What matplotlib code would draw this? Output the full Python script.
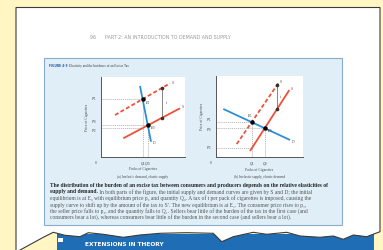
import matplotlib.pyplot as plt
from matplotlib.patches import Rectangle, Polygon

W, H = 383, 250

# panel (a): inelastic demand, elastic supply (axis units 0-10)
a_demand_x = [4.66, 5.97]
a_demand_y = [8.88, 1.91]
a_supply_x = [2.68, 9.41]
a_supply_y = [2.34, 6.09]
a_taxed_x = [1.70, 8.22]
a_taxed_y = [5.25, 9.21]
a_tax_x = 7.31

# panel (b): inelastic supply, elastic demand
b_demand_x = [0.84, 8.51]
b_demand_y = [5.93, 2.10]
b_supply_x = [3.91, 8.43]
b_supply_y = [0.74, 8.27]
b_taxed_x = [2.38, 7.16]
b_taxed_y = [1.60, 9.10]
b_tax_x = 7.0

header = "96      PART 2: AN INTRODUCTION TO DEMAND AND SUPPLY"
fig_label = "FIGURE 4-9"
fig_title = "Elasticity and the Incidence of an Excise Tax"
panel_titles = ["(a) Inelastic demand, elastic supply", "(b) Inelastic supply, elastic demand"]
caption_bold = ["The distribution of the burden of an excise tax between consumers and producers depends on the relative elasticities of",
                "supply and demand."]
caption_rest = [" In both parts of the figure, the initial supply and demand curves are given by S and D; the initial",
                "equilibrium is at E\u2080 with equilibrium price p\u2080 and quantity Q\u2080. A tax of t per pack of cigarettes is imposed, causing the",
                "supply curve to shift up by the amount of the tax to S\u2032. The new equilibrium is at E\u2081. The consumer price rises to p\u2081,",
                "the seller price falls to p\u2082, and the quantity falls to Q\u2081. Sellers bear little of the burden of the tax in the first case (and",
                "consumers bear a lot), whereas consumers bear little of the burden in the second case (and sellers bear a lot)."]

YELLOW = "#fff6c4"
BOX_FACE = "#e0eff7"
BOX_EDGE = "#88acd0"
RED = "#f0503a"
BLUE = "#2e8fd4"
BAND = "#1f6db4"
GUIDE = "#8a8a8a"
SERIF = ["Liberation Serif", "DejaVu Serif"]


def value_at(xs, ys, x):
    k = (ys[1] - ys[0]) / (xs[1] - xs[0])
    return ys[0] + k * (x - xs[0])


def cross(x1, y1, x2, y2):
    k1 = (y1[1] - y1[0]) / (x1[1] - x1[0])
    k2 = (y2[1] - y2[0]) / (x2[1] - x2[0])
    x = (y2[0] - y1[0] + k1 * x1[0] - k2 * x2[0]) / (k1 - k2)
    return x, value_at(x1, y1, x)


def panel(fig, box, dx, dy, sx, sy, tx, ty, tax_x, labels):
    left, top, right, bottom = box
    ax = fig.add_axes([left / W, 1 - bottom / H, (right - left) / W, (bottom - top) / H])
    ax.set_xlim(0, 10)
    ax.set_ylim(0, 10)
    ax.set_facecolor("white")
    for s in ("top", "right"):
        ax.spines[s].set_visible(False)
    for s in ("left", "bottom"):
        ax.spines[s].set_color("#555555")
        ax.spines[s].set_linewidth(0.7)
    ax.set_xticks([])
    ax.set_yticks([])

    e1 = cross(dx, dy, tx, ty)
    e0 = cross(dx, dy, sx, sy)
    p2 = value_at(sx, sy, e1[0])
    gkw = dict(color=GUIDE, lw=0.4, ls=(0, (2, 1.5)), zorder=1)
    ax.plot([0, e1[0]], [e1[1], e1[1]], **gkw)
    ax.plot([0, e0[0]], [e0[1], e0[1]], **gkw)
    ax.plot([0, e1[0]], [p2, p2], **gkw)
    ax.plot([e1[0], e1[0]], [0, e1[1]], **gkw)
    ax.plot([e0[0], e0[0]], [0, e0[1]], **gkw)

    ax.plot(sx, sy, color=RED, lw=1.3, solid_capstyle="butt", zorder=2)
    ax.plot(tx, ty, color=RED, lw=1.3, ls=(0, (2.2, 1.3)), zorder=2)
    ax.plot(dx, dy, color=BLUE, lw=1.3, solid_capstyle="butt", zorder=3)
    ax.plot([e1[0], e0[0]], [e1[1], e0[1]], "o", color="black", ms=2.2, zorder=4)

    t_top = value_at(tx, ty, tax_x)
    t_bot = value_at(sx, sy, tax_x)
    ax.plot([tax_x, tax_x], [t_top, t_bot], color="#555555", lw=0.5, zorder=3)
    ax.plot([tax_x, tax_x], [t_top, t_bot], "o", color="#333333", ms=1.6, zorder=4)

    fs = 2.6
    tkw = dict(fontsize=fs, color="#444444", family=SERIF, clip_on=False)
    ax.text(dx[1] + 0.2, dy[1] - 0.2, "D", ha="left", va="center", **tkw)
    ax.text(sx[1] + 0.2, sy[1] + 0.1, "S", ha="left", va="center", **tkw)
    ax.text(tx[1] + 0.2, ty[1] + 0.1, "S\u2032", ha="left", va="center", **tkw)
    ax.text(tax_x + 0.4, (t_top + t_bot) / 2, "t", ha="left", va="center", **tkw)
    ax.text(e1[0] + labels["e1"][0], e1[1] + labels["e1"][1], "$E_1$", ha="center", va="center", **tkw)
    ax.text(e0[0] + labels["e0"][0], e0[1] + labels["e0"][1], "$E_0$", ha="center", va="center", **tkw)
    ax.text(-0.5, e1[1] + labels["p1"], "$P_1$", ha="right", va="center", **tkw)
    ax.text(-0.5, e0[1] + labels["p0"], "$P_0$", ha="right", va="center", **tkw)
    ax.text(-0.5, p2 + labels["p2"], "$P_2$", ha="right", va="center", **tkw)
    ax.text(-0.5, -0.5, "0", ha="right", va="top", **tkw)
    if labels["split_q"]:
        ax.text(e1[0], -0.5, "$Q_1$", ha="center", va="top", **tkw)
        ax.text(e0[0], -0.5, "$Q_0$", ha="center", va="top", **tkw)
    else:
        ax.text((e1[0] + e0[0]) / 2, -0.5, "$Q_1 Q_0$", ha="center", va="top", **tkw)
    ax.text(5, -1.3, "Packs of Cigarettes", ha="center", va="top", **tkw)
    ax.text(-1.6, 5, "Price of Cigarettes", ha="center", va="center", rotation=90, **tkw)
    ax.text(5, -2.2, labels["title"], ha="center", va="top", **tkw)
    return ax


fig = plt.figure(figsize=(W / 100, H / 100), dpi=100)
fig.patch.set_facecolor(YELLOW)
bg = fig.add_axes([0, 0, 1, 1])
bg.set_xlim(0, W)
bg.set_ylim(H, 0)
bg.axis("off")

# next section band peeking under the torn edge
bg.add_patch(Rectangle((57, 234), 317, 18, facecolor=BAND, edgecolor="none", zorder=1))
bg.add_patch(Rectangle((58, 237.5), 4.5, 4.5, facecolor="white", edgecolor="none", zorder=1))
bg.text(85, 245, "EXTENSIONS IN THEORY", color="white", fontsize=4.2, fontweight="bold",
        va="center", ha="left", zorder=1)

torn = [(380, 231.7), (366.7, 236.7), (353.3, 235), (343.3, 239.3), (333.3, 236), (320, 237.3),
        (300, 236), (286.7, 232.3), (266.7, 234.3), (253.3, 232.3), (233.3, 236.7), (221.7, 241.7),
        (213.3, 233.3), (186.7, 232.7), (160, 233.3), (140, 235), (123.3, 237.3), (103.3, 234.3),
        (88.3, 232.7), (80, 236.7), (65, 235.3), (53.3, 232.3), (43.3, 237.3), (18.3, 251)]
page = [(16, 251), (16, 7.5), (380, 7.5)] + torn
bg.add_patch(Polygon(page, closed=True, facecolor="white", edgecolor="#3a3a3a", lw=0.8, zorder=2))

bg.text(90, 37.5, header, fontsize=3.4, color="#9a9a9a", va="center", ha="left", zorder=3)

bg.add_patch(Rectangle((43.5, 57.5), 298, 167, facecolor=BOX_FACE, edgecolor=BOX_EDGE, lw=0.8, zorder=3))
t1 = bg.text(49, 66, fig_label, fontsize=2.2, color="#2b5ca8", fontweight="bold",
             va="center", ha="left", zorder=4)
bg.annotate(fig_title, xy=(1, 0.5), xycoords=t1, xytext=(1.2, 0), textcoords="offset points",
            fontsize=2.3, color="#333333", family=SERIF, va="center", ha="left", zorder=4)

panel(fig, (100.7, 77, 185, 157), a_demand_x, a_demand_y, a_supply_x, a_supply_y,
      a_taxed_x, a_taxed_y, a_tax_x,
      dict(e1=(0.6, -0.45), e0=(0.6, -0.4), p1=0.0, p0=0.35, p2=-0.35, split_q=False,
           title=panel_titles[0]))
panel(fig, (216, 76, 303, 157), b_demand_x, b_demand_y, b_supply_x, b_supply_y,
      b_taxed_x, b_taxed_y, b_tax_x,
      dict(e1=(-0.2, 0.7), e0=(0.6, -0.4), p1=0.25, p0=-0.2, p2=0.0, split_q=True,
           title=panel_titles[1]))

y = 185.5
step = 6.4
ckw = dict(fontsize=4.0, family=SERIF, va="center", ha="left", zorder=4)
bg.text(50, y, caption_bold[0], color="#222222", fontweight="bold", **ckw)
y += step
tb = bg.text(50, y, caption_bold[1], color="#222222", fontweight="bold", **ckw)
bg.annotate(caption_rest[0], xy=(1, 0.5), xycoords=tb, xytext=(0, 0), textcoords="offset points",
            color="#555555", fontsize=4.0, family=SERIF, va="center", ha="left", zorder=4)
for line in caption_rest[1:]:
    y += step
    bg.text(50, y, line, color="#555555", **ckw)

fig.savefig("out.png", dpi=100, facecolor=fig.get_facecolor())
